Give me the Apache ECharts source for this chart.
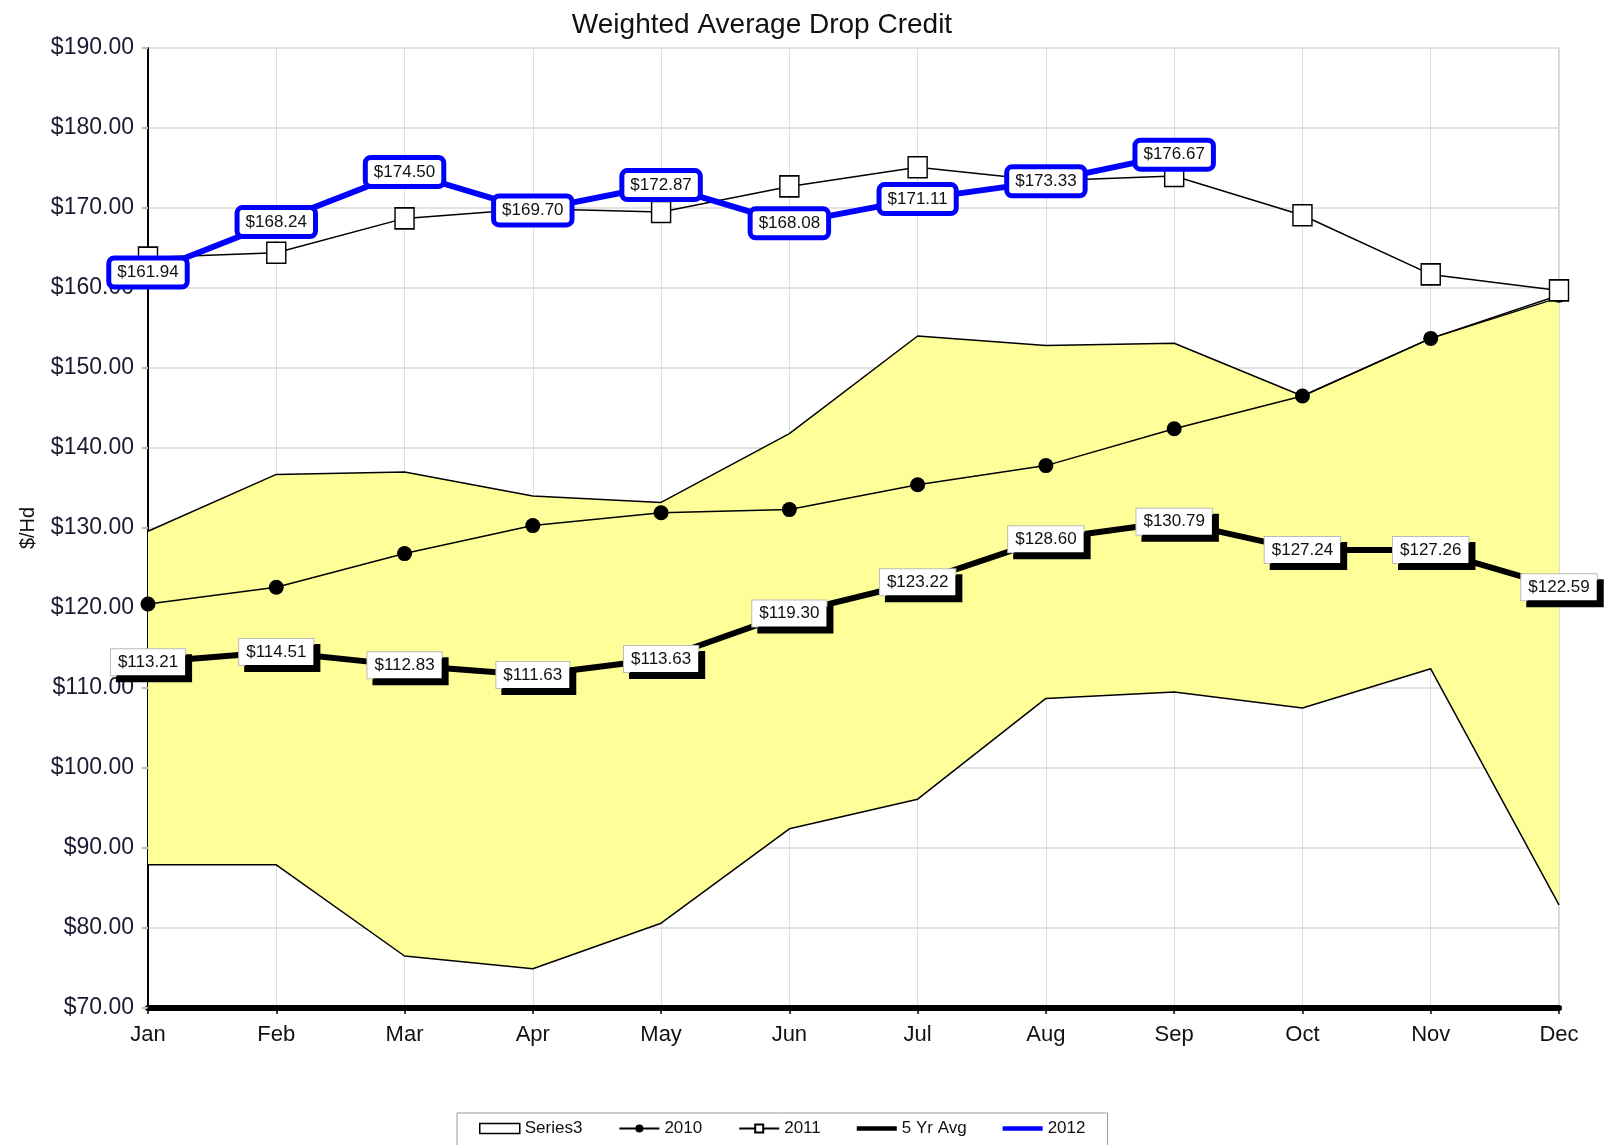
<!DOCTYPE html>
<html>
<head>
<meta charset="utf-8">
<script src="https://cdn.jsdelivr.net/npm/echarts@6/dist/echarts.min.js"></script>
<style>
  html, body { margin: 0; padding: 0; background: #fff; }
  #chart-drop-credit { width: 1604px; height: 1145px; }
</style>
</head>
<body>
<div id="chart-drop-credit"></div>
<script>
var months = ['Jan', 'Feb', 'Mar', 'Apr', 'May', 'Jun', 'Jul', 'Aug', 'Sep', 'Oct', 'Nov', 'Dec'];

// lower and upper edge of the yellow band
var bandLow  = [87.9, 87.9, 76.5, 74.9, 80.6, 92.4, 96.1, 108.7, 109.5, 107.5, 112.4, 82.9];
var bandHigh = [129.6, 136.7, 137.0, 134.0, 133.2, 141.8, 154.0, 152.8, 153.1, 146.5, 153.7, 158.8];

var data2010 = [120.5, 122.6, 126.8, 130.3, 131.9, 132.3, 135.4, 137.8, 142.4, 146.5, 153.7, 159.1];
var data2011 = [163.8, 164.4, 168.7, 169.9, 169.5, 172.7, 175.1, 173.4, 174.0, 169.1, 161.7, 159.7];
var avg5yr   = [113.21, 114.51, 112.83, 111.63, 113.63, 119.30, 123.22, 128.60, 130.79, 127.24, 127.26, 122.59];
var data2012 = [161.94, 168.24, 174.50, 169.70, 172.87, 168.08, 171.11, 173.33, 176.67];

var bandSpan = bandHigh.map(function (v, i) { return +(v - bandLow[i]).toFixed(2); });

var font = 'Liberation Sans, Arial, sans-serif';
// plain thick bar for the legend (tiny dots keep the box 10 high)
var barIcon = 'path://M0,0h0.1v0.1h-0.1z M0,2.7h40v4.6h-40z M0,9.9h0.1v0.1h-0.1z';

function money(v) {
    return '$' + Number(v).toFixed(2);
}

var chart = echarts.init(document.getElementById('chart-drop-credit'));

option = {
    animation: false,
    backgroundColor: '#fff',
    textStyle: { fontFamily: font },
    title: {
        text: 'Weighted Average Drop Credit',
        left: 757,
        top: 6,
        textAlign: 'center',
        textStyle: { fontFamily: font, fontSize: 28, fontWeight: 'normal', color: '#111' }
    },
    legend: {
        top: 1113,
        left: 457,
        width: 650,
        padding: [7, 22, 20, 22],
        borderColor: '#999',
        borderWidth: 1,
        itemGap: 36,
        itemWidth: 40,
        itemHeight: 10,
        textStyle: { fontFamily: font, fontSize: 17, color: '#111' },
        data: [
            { name: 'Series3', icon: 'rect', itemStyle: { color: '#fff', borderColor: '#000', borderWidth: 1.5 } },
            '2010', '2011',
            { name: '5 Yr Avg', icon: barIcon, itemStyle: { color: '#000', borderWidth: 0 } },
            { name: '2012', icon: barIcon, itemStyle: { color: '#0000ff', borderWidth: 0 } }
        ]
    },
    grid: {
        left: 148,
        right: 45,
        top: 48,
        bottom: 137,
        show: true,
        borderColor: '#aaa',
        borderWidth: 1
    },
    xAxis: {
        type: 'category',
        boundaryGap: false,
        data: months,
        axisLine: { lineStyle: { color: '#000', width: 6 } },
        axisTick: { show: true, length: 6, lineStyle: { color: '#000', width: 1.5 } },
        axisLabel: { fontFamily: font, fontSize: 22, color: '#111', margin: 16 },
        splitLine: { show: true, lineStyle: { color: '#ddd', width: 1 } }
    },
    yAxis: {
        type: 'value',
        min: 70,
        max: 190,
        interval: 10,
        name: '$/Hd',
        nameLocation: 'middle',
        nameGap: 110,
        nameTextStyle: { fontFamily: font, fontSize: 20, color: '#111' },
        axisLine: { show: true, lineStyle: { color: '#000', width: 2 } },
        axisTick: { show: true, length: 6, lineStyle: { color: '#bbb', width: 2 } },
        axisLabel: { fontFamily: font, fontSize: 23, color: '#1a1a33', margin: 14, formatter: money },
        splitLine: { show: true, lineStyle: { color: '#e2e2e2', width: 2 } }
    },
    series: [
        {
            name: 'Series3',
            type: 'line',
            stack: 'band',
            data: bandLow,
            symbol: 'none',
            itemStyle: { color: '#000' },
            lineStyle: { color: '#000', width: 1.5 },
            z: 1
        },
        {
            name: 'band',
            type: 'line',
            stack: 'band',
            data: bandSpan,
            symbol: 'none',
            lineStyle: { color: '#000', width: 1.5 },
            areaStyle: { color: '#ffff99', opacity: 1 },
            z: 1
        },
        {
            name: '2010',
            type: 'line',
            data: data2010,
            symbol: 'circle',
            symbolSize: 15,
            itemStyle: { color: '#000' },
            lineStyle: { color: '#000', width: 1.5 },
            z: 3
        },
        {
            name: '2011',
            type: 'line',
            data: data2011,
            symbol: 'rect',
            symbolSize: [19, 21],
            itemStyle: { color: '#fff', borderColor: '#000', borderWidth: 1.5 },
            lineStyle: { color: '#000', width: 1.5 },
            z: 3
        },
        {
            name: '5 Yr Avg',
            type: 'line',
            data: avg5yr,
            symbol: 'circle',
            symbolSize: 0,
            showAllSymbol: true,
            itemStyle: { color: '#000' },
            lineStyle: { color: '#000', width: 6 },
            label: {
                show: true,
                position: 'inside',
                formatter: function (p) { return money(p.value); },
                fontFamily: font,
                fontSize: 17,
                color: '#111',
                backgroundColor: '#fff',
                borderColor: '#bbb',
                borderWidth: 1,
                padding: [5, 7, 4, 7],
                shadowColor: '#000',
                shadowOffsetX: 6,
                shadowOffsetY: 6
            },
            z: 4
        },
        {
            name: '2012',
            type: 'line',
            data: data2012,
            symbol: 'circle',
            symbolSize: 0,
            showAllSymbol: true,
            itemStyle: { color: '#0000ff' },
            lineStyle: { color: '#0000ff', width: 6 },
            label: {
                show: true,
                position: 'inside',
                formatter: function (p) { return money(p.value); },
                fontFamily: font,
                fontSize: 17,
                color: '#111',
                backgroundColor: '#fff',
                borderColor: '#0000ff',
                borderWidth: 5,
                borderRadius: 3,
                padding: [4, 6, 3, 6]
            },
            z: 5
        }
    ]
};

chart.setOption(option);
</script>
</body>
</html>
